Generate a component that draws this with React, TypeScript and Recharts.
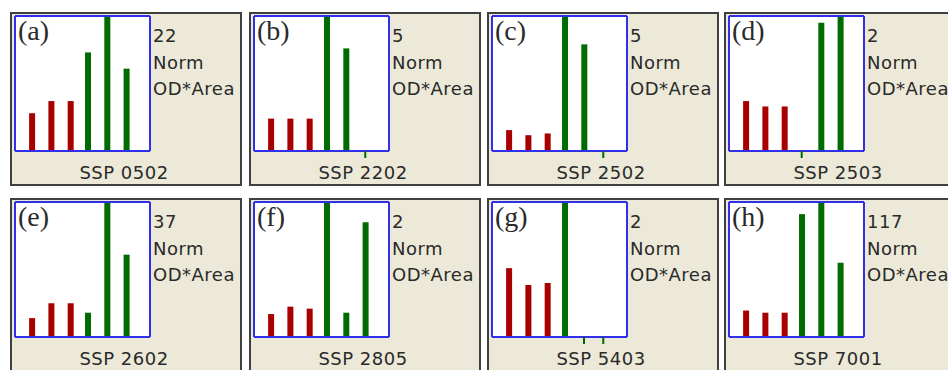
import {Bar, BarChart, CartesianGrid, Cell, XAxis, YAxis} from 'recharts';

// one entry per panel
const PANEL_TAGS = ['(a)', '(b)', '(c)', '(d)', '(e)', '(f)', '(g)', '(h)'];
const SAMPLE_IDS = [
	'SSP 0502',
	'SSP 2202',
	'SSP 2502',
	'SSP 2503',
	'SSP 2602',
	'SSP 2805',
	'SSP 5403',
	'SSP 7001',
];
const SPOT_COUNTS = ['22', '5', '5', '2', '37', '2', '2', '117'];
const UNIT_LINES = ['Norm', 'OD*Area'];

// lane positions on the x scale, 3 control lanes then 3 treated lanes
const LANES = [1, 2, 3, 3.9, 4.9, 5.9];
const LANE_GROUP = ['ctrl', 'ctrl', 'ctrl', 'trt', 'trt', 'trt'];

// normalised OD*Area, % of the panel maximum
const VALUES_A = [28, 37, 37, 73, 100, 61];
const VALUES_B = [24, 24, 24, 100, 76, 0];
const VALUES_C = [15.5, 11.7, 13, 100, 79, 0];
const VALUES_D = [37, 33, 33, 0, 95, 100];
const VALUES_E = [14, 25, 25, 18, 100, 61];
const VALUES_F = [17, 22.5, 21, 100, 18, 85];
const VALUES_G = [51, 38.5, 40, 100, 0, 0];
const VALUES_H = [19.6, 18, 18, 91, 100, 55];

const PANEL_VALUES = [
	VALUES_A,
	VALUES_B,
	VALUES_C,
	VALUES_D,
	VALUES_E,
	VALUES_F,
	VALUES_G,
	VALUES_H,
];

const COL_X = [10, 249, 487, 724];
const ROW_Y = [12, 198];

const RED = '#a80000';
const GREEN = '#006b00';
const BLUE = '#3030ec';
const TEXT = '#2a2a2a';
const SANS = "'DejaVu Sans', sans-serif";

function GelPanel({index}: {index: number}) {
	const values = PANEL_VALUES[index];
	const data = LANES.map((lane, i) => ({
		lane,
		v: values[i],
		group: LANE_GROUP[i],
	}));
	const missing = data.filter(d => d.v === 0).map(d => d.lane);

	const left = COL_X[index % 4];
	const top = ROW_Y[Math.floor(index / 4)];

	return (
		<div
			style={{
				position: 'absolute',
				left,
				top,
				width: 232,
				height: 174,
				boxSizing: 'border-box',
				border: '2px solid #404040',
				background: '#ECE9D8',
				color: TEXT,
			}}
		>
			<div style={{position: 'absolute', left: 0, top: 0}}>
				<BarChart
					width={140}
					height={149}
					data={data}
					margin={{top: 2, left: 3, right: 2, bottom: 0}}
				>
					<CartesianGrid horizontal={false} vertical={false} fill="#fff" />
					<XAxis
						type="number"
						dataKey="lane"
						domain={[0.13, 7.13]}
						allowDataOverflow
						height={12}
						interval={0}
						ticks={missing.length ? missing : undefined}
						tickLine={missing.length ? {stroke: GREEN, strokeWidth: 2} : false}
						tickSize={7}
						tick={() => <g />}
						axisLine={{stroke: BLUE, strokeWidth: 2}}
					/>
					<XAxis
						xAxisId="top"
						orientation="top"
						type="number"
						domain={[0.13, 7.13]}
						mirror
						tick={false}
						tickLine={false}
						axisLine={{stroke: BLUE, strokeWidth: 2}}
					/>
					<YAxis
						type="number"
						domain={[0, 100]}
						allowDataOverflow
						mirror
						tick={false}
						tickLine={false}
						axisLine={{stroke: BLUE, strokeWidth: 2}}
					/>
					<YAxis
						yAxisId="right"
						orientation="right"
						type="number"
						domain={[0, 100]}
						mirror
						tick={false}
						tickLine={false}
						axisLine={{stroke: BLUE, strokeWidth: 2}}
					/>
					<Bar dataKey="v" barSize={6} isAnimationActive={false}>
						{data.map((d, i) => (
							<Cell key={i} fill={d.group === 'ctrl' ? RED : GREEN} />
						))}
					</Bar>
				</BarChart>
			</div>

			<div
				style={{
					position: 'absolute',
					left: 6,
					top: 3,
					fontFamily: "'Liberation Serif', serif",
					fontSize: 28,
					lineHeight: '27px',
				}}
			>
				{PANEL_TAGS[index]}
			</div>

			<div
				style={{
					position: 'absolute',
					left: 141,
					top: 9,
					fontFamily: SANS,
					fontSize: 18,
					lineHeight: '26.7px',
					letterSpacing: 0.5,
					whiteSpace: 'nowrap',
				}}
			>
				<div>{SPOT_COUNTS[index]}</div>
				{UNIT_LINES.map(t => (
					<div key={t}>{t}</div>
				))}
			</div>

			<div
				style={{
					position: 'absolute',
					left: -2,
					width: 228,
					top: 149,
					textAlign: 'center',
					fontFamily: SANS,
					fontSize: 18,
					lineHeight: '20px',
					letterSpacing: 0.5,
					whiteSpace: 'nowrap',
				}}
			>
				{SAMPLE_IDS[index]}
			</div>
		</div>
	);
}

export default function App() {
	return (
		<div
			style={{
				position: 'fixed',
				left: 0,
				top: 0,
				width: 948,
				height: 370,
				overflow: 'hidden',
				background: '#fff',
			}}
		>
			{PANEL_TAGS.map((_, i) => (
				<GelPanel key={i} index={i} />
			))}
		</div>
	);
}
